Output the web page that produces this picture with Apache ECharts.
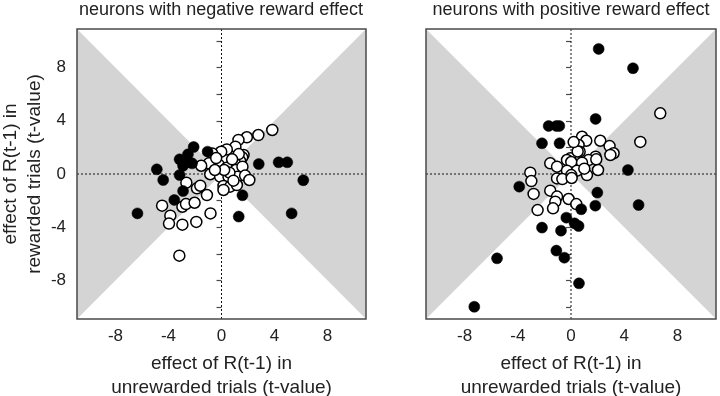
<!DOCTYPE html>
<html>
<head>
<meta charset="utf-8">
<script src="https://cdn.jsdelivr.net/npm/echarts@6/dist/echarts.min.js"></script>
<style>
    html, body { margin: 0; padding: 0; background: #fff; }
    #chart { width: 720px; height: 396px; }
</style>
</head>
<body>
<div id="chart"></div>
<script>
// axis limits and ticks (same for both panels and both axes)
const LIM = 10.9;
const tickValues = [-10, -8, -6, -4, -2, 0, 2, 4, 6, 8, 10];
const labelValues = [-8, -4, 0, 4, 8];

const panelTitles = ["neurons with negative reward effect", "neurons with positive reward effect"];
const xName = "effect of R(t-1) in\nunrewarded trials (t-value)";
const yName = "effect of R(t-1) in\nrewarded trials (t-value)";

// [unrewarded t, rewarded t]
const negFilled = [
    [-4.88, 0.35], [-4.4, -0.45], [-2.1, 2.03], [-2.53, 1.48], [-3.16, 1.1], [-2.9, 0.62],
    [-2.22, 0.8], [-2.7, 0.88], [-1.05, 1.68], [-3.16, -0.08], [-2.9, -1.28], [2.81, 0.75],
    [4.31, 0.88], [4.96, 0.88], [6.17, -0.47], [-3.56, -1.95], [-6.34, -2.96], [1.58, -1.6],
    [1.3, -3.2], [5.29, -2.96]
];
const negOpen = [
    [3.83, 3.31], [2.78, 2.93], [1.91, 2.76], [1.28, 2.56], [1.05, 2.05], [0.4, 1.85],
    [-0.02, 1.68], [-0.7, 1.55], [1.66, 1.43], [1.56, 1.25], [1.4, 0.98], [1.05, 0.75],
    [-0.2, 0.68], [-0.95, 0.8], [-1.53, 0.62], [0.4, 0.47], [1.08, 0.3], [1.58, 0.55],
    [-0.85, -0.02], [-0.1, -0.2], [0.53, -0.2], [1.2, -0.2], [1.78, -0.12], [2.1, -0.45],
    [-2.65, -0.65], [-1.85, -1.08], [-1.6, -0.88], [0.15, -0.9], [0.65, -0.95], [1.16, -0.83],
    [-1.1, -1.58], [-4.48, -2.38], [-3.86, -3.13], [-3.96, -3.73], [-2.95, -2.46], [-2.68, -2.26],
    [-2.03, -2.16], [-1.9, -3.6], [-2.95, -3.81], [-0.83, -2.96], [-3.18, -6.14], [0.15, -1.2],
    [0.6, 0.1], [0.2, 0.3], [-0.4, 1.2], [0.9, -0.5], [-0.5, 0.3], [1.3, 1.5], [0.8, 1.1]
];
const posFilled = [
    [2.08, 9.4], [4.66, 7.95], [1.85, 4.14], [-1.68, 3.61], [-1.1, 3.61], [-0.88, 3.61],
    [-2.18, 2.31], [-0.86, 2.31], [4.28, 0.3], [-3.89, -0.95], [1.98, -1.4], [5.08, -2.33],
    [1.83, -2.38], [0.77, -2.65], [-0.35, -3.28], [0.27, -3.71], [0.57, -3.91], [-2.18, -4.03],
    [-0.75, -4.26], [-1.1, -5.76], [-0.5, -6.29], [-5.56, -6.34], [0.6, -8.22], [-7.27, -9.98]
];
const posOpen = [
    [6.71, 4.56], [5.21, 2.41], [2.2, 2.5], [2.9, 2.1], [3.2, 1.56], [2.96, 1.43],
    [1.85, 1.3], [0.83, 2.8], [1.15, 2.5], [0.57, 2.18], [0.65, 1.68], [-0.05, 1.18],
    [-0.3, 1.05], [0.02, 0.9], [1.32, 1.05], [0.83, 0.85], [-1.56, 0.8], [-1.05, 0.55],
    [-0.3, 0.25], [0.45, 0.25], [1.2, -0.08], [2.03, 0.3], [0.02, -0.08], [-3.06, 0.1],
    [-2.98, -0.53], [-1.05, -0.33], [-0.65, -0.38], [-2.81, -1.5], [-1.56, -1.25], [-1.05, -1.7],
    [-0.18, -1.88], [-1.18, -2.08], [0.4, -2.26], [-2.51, -2.71], [-1.35, -2.58], [0.5, 1.7],
    [0.2, 2.4], [1.9, 1.1], [0.05, -0.3], [1.0, 0.4]
];

const FONT = "Liberation Sans, Arial, sans-serif";
const TEXT = "#222";
const FRAME = "#4a4a4a";

// grey bow-tie where |rewarded| < |unrewarded|, plus zero lines and frame
const renderBackground = (params, api) => {
    const p = (x, y) => api.coord([x, y]);
    const dash = { stroke: "#111", lineWidth: 1, lineDash: [2, 2] };
    const tl = p(-LIM, LIM);
    const br = p(LIM, -LIM);
    return {
        type: "group",
        children: [
            { type: "polygon", shape: { points: [p(-LIM, LIM), p(0, 0), p(-LIM, -LIM)] }, style: { fill: "#d4d4d4" } },
            { type: "polygon", shape: { points: [p(LIM, LIM), p(0, 0), p(LIM, -LIM)] }, style: { fill: "#d4d4d4" } },
            { type: "line", shape: { x1: p(0, LIM)[0], y1: p(0, LIM)[1], x2: p(0, -LIM)[0], y2: p(0, -LIM)[1] }, style: dash },
            { type: "line", shape: { x1: p(-LIM, 0)[0], y1: p(-LIM, 0)[1], x2: p(LIM, 0)[0], y2: p(LIM, 0)[1] }, style: dash },
            { type: "rect", shape: { x: tl[0], y: tl[1], width: br[0] - tl[0], height: br[1] - tl[1] }, style: { fill: null, stroke: FRAME, lineWidth: 1.5 } }
        ]
    };
};

const makeXAxis = idx => ({
    gridIndex: idx,
    type: "value",
    min: -LIM,
    max: LIM,
    name: xName,
    nameLocation: "middle",
    nameGap: 33,
    nameTextStyle: { fontFamily: FONT, fontSize: 19, color: TEXT, lineHeight: 24 },
    axisLine: { show: false },
    axisTick: { show: true, length: 5, customValues: tickValues, lineStyle: { color: FRAME, width: 1.2 } },
    axisLabel: { customValues: labelValues, margin: 9, fontFamily: FONT, fontSize: 17, color: TEXT },
    splitLine: { show: false }
});

const makeYAxis = (idx, withLabels) => ({
    gridIndex: idx,
    type: "value",
    min: -LIM,
    max: LIM,
    name: withLabels ? yName : "",
    nameLocation: "middle",
    nameRotate: 90,
    nameGap: 22,
    nameTextStyle: { fontFamily: FONT, fontSize: 19, color: TEXT, lineHeight: 24 },
    axisLine: { show: false },
    axisTick: { show: true, length: 5, customValues: tickValues, lineStyle: { color: FRAME, width: 1.2 } },
    axisLabel: { show: withLabels, customValues: labelValues, margin: 11, fontFamily: FONT, fontSize: 17, color: TEXT },
    splitLine: { show: false }
});

const makeSeries = (idx, open, filled) => [
    {
        type: "custom",
        xAxisIndex: idx,
        yAxisIndex: idx,
        silent: true,
        z: 1,
        data: [[0, 0]],
        renderItem: renderBackground
    },
    {
        type: "scatter",
        xAxisIndex: idx,
        yAxisIndex: idx,
        symbol: "circle",
        symbolSize: 11,
        z: 3,
        itemStyle: { color: "#fff", borderColor: "#000", borderWidth: 1.5, opacity: 1 },
        data: open
    },
    {
        type: "scatter",
        xAxisIndex: idx,
        yAxisIndex: idx,
        symbol: "circle",
        symbolSize: 11,
        z: 4,
        itemStyle: { color: "#000", borderColor: "#000", borderWidth: 0.5, opacity: 1 },
        data: filled
    }
];

const chart = echarts.init(document.getElementById("chart"), null, { renderer: "canvas" });

const option = {
    animation: false,
    backgroundColor: "#fff",
    graphic: [
        { type: "text", x: 221, y: 1, style: { text: panelTitles[0], textAlign: "center", fontFamily: FONT, fontSize: 18, fill: TEXT } },
        { type: "text", x: 571, y: 1, style: { text: panelTitles[1], textAlign: "center", fontFamily: FONT, fontSize: 18, fill: TEXT } }
    ],
    grid: [
        { left: 77, top: 29, width: 289, height: 290, show: false, containLabel: false, outerBoundsMode: "none" },
        { left: 426, top: 29, width: 290, height: 290, show: false, containLabel: false, outerBoundsMode: "none" }
    ],
    xAxis: [makeXAxis(0), makeXAxis(1)],
    yAxis: [makeYAxis(0, true), makeYAxis(1, false)],
    series: [...makeSeries(0, negOpen, negFilled), ...makeSeries(1, posOpen, posFilled)]
};

chart.setOption(option);
</script>
</body>
</html>
